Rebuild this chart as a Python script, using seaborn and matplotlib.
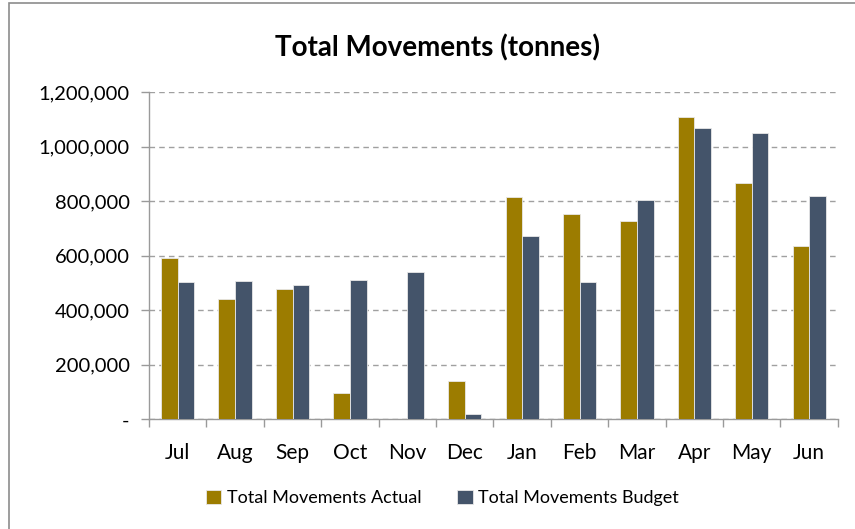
import matplotlib
matplotlib.use("Agg")
import matplotlib.pyplot as plt
import matplotlib.ticker as mticker
from matplotlib.patches import Rectangle
import seaborn as sns
import pandas as pd

months = ["Jul", "Aug", "Sep", "Oct", "Nov", "Dec", "Jan", "Feb", "Mar", "Apr", "May", "Jun"]
actual = [591000, 442000, 478000, 97000, 0, 141000, 814000, 754000, 727000, 1107000, 865000, 635000]
budget = [503000, 508000, 492000, 511000, 540000, 19000, 672000, 502000, 804000, 1069000, 1049000, 820000]
series_names = ["Total Movements Actual", "Total Movements Budget"]
colors = ["#9C7C00", "#44546A"]
y_ticks = [0, 200000, 400000, 600000, 800000, 1000000, 1200000]

df = pd.DataFrame({
    "Month": months * 2,
    "Value": actual + budget,
    "Series": [series_names[0]] * len(months) + [series_names[1]] * len(months),
})

sns.set_theme(style="white")
plt.rcParams["font.family"] = ["Lato", "DejaVu Sans"]
plt.rcParams["text.color"] = "black"

fig = plt.figure(figsize=(8.55, 5.29), dpi=100)
ax = fig.add_axes([0.1743, 0.2074, 0.8057, 0.6186])

sns.barplot(data=df, x="Month", y="Value", hue="Series", order=months,
            hue_order=series_names, palette=colors, saturation=1, width=0.58, gap=0,
            edgecolor="#E8E8E8", linewidth=0.6, ax=ax, legend=True, zorder=3)

ax.set_ylim(0, 1200000)
ax.set_xlim(-0.5, len(months) - 0.5)
ax.set_yticks(y_ticks)
ax.yaxis.set_major_formatter(mticker.FuncFormatter(lambda v, p: "-" if v == 0 else f"{int(v):,}"))
ax.grid(axis="y", color="#A0A0A0", linestyle=(0, (4, 3)), linewidth=1.0, zorder=0)
ax.set_axisbelow(True)
ax.set_xlabel("")
ax.set_ylabel("")

for s in ["top", "right"]:
    ax.spines[s].set_visible(False)
for s in ["left", "bottom"]:
    ax.spines[s].set_color("#9A9A9A")
    ax.spines[s].set_linewidth(1.0)

ax.set_xticks([i - 0.5 for i in range(len(months) + 1)], minor=True)
ax.tick_params(axis="x", which="major", length=0, labelsize=15, pad=17, colors="black")
ax.tick_params(axis="x", which="minor", length=6, width=1, color="#9A9A9A", direction="out", bottom=True)
ax.tick_params(axis="y", length=6, width=1, color="#9A9A9A", labelsize=14.5, pad=8, colors="black", left=True)
for lab in ax.get_yticklabels() + ax.get_xticklabels():
    lab.set_color("black")

fig.suptitle("Total Movements (tonnes)", x=0.512, y=0.935, fontsize=20, fontweight="bold", color="black")

handles, labels = ax.get_legend_handles_labels()
ax.legend_.remove()
fig.legend(handles, labels, loc="center", bbox_to_anchor=(0.5175, 0.059), ncol=2,
           frameon=False, fontsize=13, handlelength=0.85, handleheight=0.85,
           handletextpad=0.3, columnspacing=2.0)

fig.patches.append(Rectangle((9 / 855, -0.1), 1.2, 1.1 - 3 / 529, transform=fig.transFigure,
                             fill=False, edgecolor="#8C8C8C", linewidth=1.2, zorder=-1))

fig.savefig("out.png", dpi=100, facecolor="white")
